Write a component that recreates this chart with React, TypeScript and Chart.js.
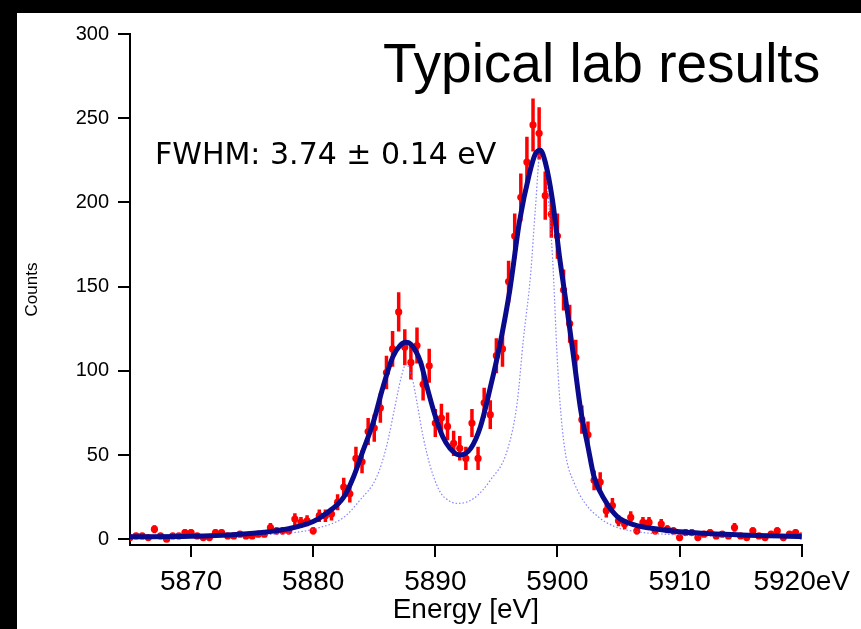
import React, { useEffect, useRef } from 'react';
import { Chart, registerables } from 'chart.js';

Chart.register(...registerables);

// Measured spectrum (0.5 eV bins)
const energies = [
  5865.0, 5865.5, 5866.0, 5866.5, 5867.0, 5867.5, 5868.0, 5868.5, 5869.0, 5869.5,
  5870.0, 5870.5, 5871.0, 5871.5, 5872.0, 5872.5, 5873.0, 5873.5, 5874.0, 5874.5,
  5875.0, 5875.5, 5876.0, 5876.5, 5877.0, 5877.5, 5878.0, 5878.5, 5879.0, 5879.5,
  5880.0, 5880.5, 5881.0, 5881.5, 5882.0, 5882.5, 5883.0, 5883.5, 5884.0, 5884.5,
  5885.0, 5885.5, 5886.0, 5886.5, 5887.0, 5887.5, 5888.0, 5888.5, 5889.0, 5889.5,
  5890.0, 5890.5, 5891.0, 5891.5, 5892.0, 5892.5, 5893.0, 5893.5, 5894.0, 5894.5,
  5895.0, 5895.5, 5896.0, 5896.5, 5897.0, 5897.5, 5898.0, 5898.5, 5899.0, 5899.5,
  5900.0, 5900.5, 5901.0, 5901.5, 5902.0, 5902.5, 5903.0, 5903.5, 5904.0, 5904.5,
  5905.0, 5905.5, 5906.0, 5906.5, 5907.0, 5907.5, 5908.0, 5908.5, 5909.0, 5909.5,
  5910.0, 5910.5, 5911.0, 5911.5, 5912.0, 5912.5, 5913.0, 5913.5, 5914.0, 5914.5,
  5915.0, 5915.5, 5916.0, 5916.5, 5917.0, 5917.5, 5918.0, 5918.5, 5919.0, 5919.5,
  5920.0,
];
const counts = [
  1, 2, 2, 1, 6, 2, 0, 2, 2, 4,
  4, 2, 1, 1, 4, 4, 2, 2, 3, 2,
  2, 3, 3, 7, 5, 5, 5, 12, 10, 11,
  5, 14, 14, 15, 22, 31, 27, 48, 46, 64,
  66, 78, 99, 113, 135, 114, 105, 115, 92, 103,
  69, 72, 67, 57, 54, 48, 69, 48, 81, 74,
  109, 113, 153, 180, 203, 224, 246, 241, 204, 193,
  180, 148, 128, 108, 71, 62, 35, 34, 17, 20,
  11, 9, 13, 5, 10, 10, 5, 9, 6, 5,
  1, 4, 4, 1, 3, 4, 2, 3, 2, 7,
  2, 1, 5, 2, 1, 3, 5, 1, 3, 4,
  2,
];
const countErrors = [
  1.0, 1.4, 1.4, 1.0, 2.4, 1.4, 0.0, 1.4, 1.4, 2.0,
  2.0, 1.4, 1.0, 1.0, 2.0, 2.0, 1.4, 1.4, 1.7, 1.4,
  1.4, 1.7, 1.7, 2.6, 2.2, 2.2, 2.2, 3.5, 3.2, 3.3,
  2.2, 3.7, 3.7, 3.9, 4.7, 5.6, 5.2, 6.9, 6.8, 8.0,
  8.1, 8.8, 9.9, 10.6, 11.6, 10.7, 10.2, 10.7, 9.6, 10.1,
  8.3, 8.5, 8.2, 7.5, 7.3, 6.9, 8.3, 6.9, 9.0, 8.6,
  10.4, 10.6, 12.4, 13.4, 14.2, 15.0, 15.7, 15.5, 14.3, 13.9,
  13.4, 12.2, 11.3, 10.4, 8.4, 7.9, 5.9, 5.8, 4.1, 4.5,
  3.3, 3.0, 3.6, 2.2, 3.2, 3.2, 2.2, 3.0, 2.4, 2.2,
  1.0, 2.0, 2.0, 1.0, 1.7, 2.0, 1.4, 1.7, 1.4, 2.6,
  1.4, 1.0, 2.2, 1.4, 1.0, 1.7, 2.2, 1.0, 1.7, 2.0,
  1.4,
];

// Fitted curve (thick navy line)
const fitEnergies = [
  5865, 5870, 5874, 5876, 5878, 5880, 5881, 5882.5, 5883.3, 5884.1,
  5884.9, 5885.7, 5886.5, 5887.1, 5887.6, 5888.1, 5888.8, 5889.3, 5890.0, 5890.6,
  5891.2, 5892.0, 5892.9, 5893.7, 5894.5, 5895.3, 5896.1, 5896.9, 5897.7, 5898.2,
  5898.6, 5899.0, 5899.6, 5900.2, 5900.8, 5901.4, 5901.9, 5902.5, 5903.0, 5903.9,
  5904.9, 5906.3, 5907.7, 5910, 5915, 5920,
];
const fitCounts = [
  1.5, 1.8, 3.0, 4.2, 6.3, 10.5, 15, 25, 37, 53,
  69, 90, 108, 115, 117, 115, 105, 91, 73, 61,
  54, 50, 54, 67, 90, 116, 148, 189, 217, 229,
  231, 224, 201, 166, 136, 104, 77, 55, 37, 23,
  13.5, 8.5, 6.5, 4.5, 2.6, 1.6,
];

// Intrinsic line shape (dotted light blue)
const lineEnergies = [
  5865, 5870, 5875.5, 5878.2, 5880.3, 5882.5, 5883.8, 5885.2, 5886.0, 5886.7,
  5887.2, 5887.6, 5888.1, 5888.5, 5889.0, 5889.6, 5890.4, 5891.1, 5891.8, 5893.1,
  5894.5, 5895.9, 5896.7, 5897.2, 5897.8, 5898.2, 5898.6, 5898.9, 5899.2, 5899.6,
  5900.0, 5900.3, 5900.7, 5901.4, 5902.2, 5903.4, 5904.7, 5906.5, 5910, 5915,
  5920,
];
const lineCounts = [
  0.8, 1.2, 2.6, 3.8, 6.5, 13, 23, 37, 55, 79,
  96, 104, 96, 81, 61, 43, 28, 23, 21.3, 24,
  35, 53, 81, 118, 157, 197, 231, 227, 207, 167,
  105, 73, 49, 33, 22, 13, 7.5, 4.5, 2.6, 1.8,
  1.4,
];

const xTicks = [5870, 5880, 5890, 5900, 5910, 5920];
const xTickLabels = ['5870', '5880', '5890', '5900', '5910', '5920eV'];
const yTicks = [0, 50, 100, 150, 200, 250, 300];
const yTickLabels = ['0', '50', '100', '150', '200', '250', '300'];

const titleText = 'Typical lab results';
const fwhmText = 'FWHM: 3.74 \u00b1 0.14 eV';
const xTitle = 'Energy [eV]';
const yTitle = 'Counts';

const FONT = '"Liberation Sans", Arial, Helvetica, sans-serif';

const errorBarPlugin = {
  id: 'errorBars',
  beforeDatasetsDraw(chart: any) {
    const { ctx, scales, chartArea } = chart;
    const xs = scales.x;
    const ys = scales.y;
    ctx.save();
    ctx.beginPath();
    ctx.rect(chartArea.left, chartArea.top, chartArea.right - chartArea.left, chartArea.bottom - chartArea.top);
    ctx.clip();
    ctx.strokeStyle = '#ff0000';
    ctx.lineWidth = 3.5;
    ctx.lineCap = 'butt';
    energies.forEach((e, i) => {
      const err = countErrors[i];
      if (!err) return;
      const px = xs.getPixelForValue(e);
      const y1 = ys.getPixelForValue(counts[i] - err);
      const y2 = ys.getPixelForValue(counts[i] + err);
      ctx.beginPath();
      ctx.moveTo(px, y1);
      ctx.lineTo(px, y2);
      ctx.stroke();
    });
    ctx.restore();
  },
};

const textPlugin = {
  id: 'annotText',
  afterDraw(chart: any) {
    const { ctx } = chart;
    ctx.save();
    ctx.fillStyle = '#000';
    ctx.textBaseline = 'alphabetic';
    ctx.textAlign = 'left';
    ctx.font = `55px ${FONT}`;
    ctx.fillText(titleText, 366, 69);
    ctx.font = '30px "DejaVu Sans", sans-serif';
    ctx.fillText(fwhmText, 138, 151);
    ctx.restore();
  },
};

export default function App() {
  const ref = useRef<HTMLCanvasElement>(null);

  useEffect(() => {
    const canvas = ref.current;
    if (!canvas) return;
    const chart = new Chart(canvas, {
      type: 'scatter',
      data: {
        datasets: [
          {
            label: 'fit',
            type: 'line',
            data: fitEnergies.map((e, i) => ({ x: e, y: fitCounts[i] })),
            borderColor: '#0a0a8c',
            borderWidth: 5,
            pointRadius: 0,
            cubicInterpolationMode: 'monotone',
            fill: false,
            order: 1,
          } as any,
          {
            label: 'line shape',
            type: 'line',
            data: lineEnergies.map((e, i) => ({ x: e, y: lineCounts[i] })),
            borderColor: 'rgba(110,110,255,0.85)',
            borderWidth: 1.2,
            borderDash: [1.5, 2],
            pointRadius: 0,
            cubicInterpolationMode: 'monotone',
            fill: false,
            order: 2,
          } as any,
          {
            label: 'data',
            type: 'scatter',
            data: energies.map((e, i) => ({ x: e, y: counts[i] })),
            backgroundColor: '#ff0000',
            borderColor: '#ff0000',
            borderWidth: 0,
            pointRadius: 3.6,
            showLine: false,
            order: 3,
          } as any,
        ],
      },
      options: {
        responsive: false,
        animation: false,
        devicePixelRatio: 1,
        layout: { padding: { left: 0, top: 20, right: 59.3, bottom: 0 } },
        plugins: {
          legend: { display: false },
          tooltip: { enabled: false },
          title: { display: false },
        },
        scales: {
          x: {
            type: 'linear',
            min: 5865,
            max: 5920,
            afterBuildTicks: (s: any) => {
              s.ticks = xTicks.map((v) => ({ value: v }));
            },
            afterFit: (s: any) => {
              s.height = 84;
            },
            ticks: {
              autoSkip: false,
              maxRotation: 0,
              padding: 8,
              color: '#000',
              font: { family: FONT, size: 28 },
              callback: (v: any) => xTickLabels[xTicks.indexOf(Number(v))] ?? '',
            },
            grid: { drawOnChartArea: false, drawTicks: true, tickLength: 12, color: '#000', lineWidth: 2 },
            border: { display: true, color: '#000', width: 2 },
            title: {
              display: true,
              text: xTitle,
              color: '#000',
              font: { family: FONT, size: 28 },
              padding: { top: 0, bottom: 2 },
            },
          },
          y: {
            type: 'linear',
            min: -3.4,
            max: 300,
            afterBuildTicks: (s: any) => {
              s.ticks = yTicks.map((v) => ({ value: v }));
            },
            afterFit: (s: any) => {
              s.width = 113;
            },
            ticks: {
              autoSkip: false,
              padding: 9,
              color: '#000',
              font: { family: FONT, size: 20 },
              callback: (v: any) => yTickLabels[yTicks.indexOf(Number(v))] ?? '',
            },
            grid: { drawOnChartArea: false, drawTicks: true, tickLength: 12, color: '#000', lineWidth: 2 },
            border: { display: true, color: '#000', width: 2 },
            title: {
              display: true,
              text: yTitle,
              color: '#000',
              font: { family: FONT, size: 17 },
              padding: { top: 5.5, bottom: 0 },
            },
          },
        },
      },
      plugins: [errorBarPlugin, textPlugin],
    });
    return () => chart.destroy();
  }, []);

  return (
    <div
      style={{
        position: 'fixed',
        left: 0,
        top: 0,
        width: 861,
        height: 629,
        background: '#000',
        overflow: 'hidden',
      }}
    >
      <div style={{ position: 'absolute', left: 17, top: 13, width: 844, height: 616, background: '#fff' }}>
        <canvas ref={ref} width={844} height={616} style={{ display: 'block', width: 844, height: 616 }} />
      </div>
    </div>
  );
}
